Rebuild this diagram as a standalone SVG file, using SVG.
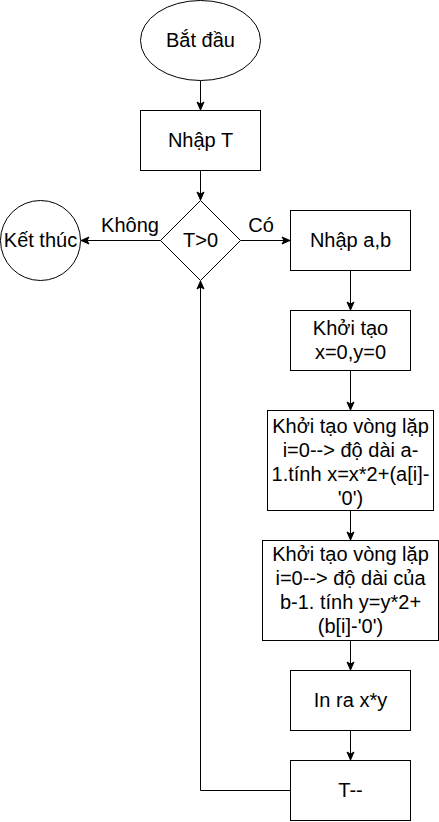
<svg xmlns="http://www.w3.org/2000/svg" width="439" height="822" viewBox="0 0 439 822">
  <defs>
    <marker id="arr" markerUnits="userSpaceOnUse" markerWidth="10" markerHeight="10" viewBox="0 0 10 10" refX="9" refY="5" orient="auto">
      <path d="M1,1.5 L9,5 L1,8.5 L3,5 Z" fill="#000" stroke="#000" stroke-width="1"/>
    </marker>
  </defs>
  <style>
    .shape { fill: #fff; stroke: #000; stroke-width: 1; }
    .edge { fill: none; stroke: #000; stroke-width: 1; marker-end: url(#arr); }
    text { font-family: "Liberation Sans", Arial, sans-serif; font-size: 20px; fill: #000; text-anchor: middle; }
  </style>
  <rect width="439" height="822" fill="#fff"/>
  <g id="connectors">
    <path class="edge" d="M200.5,80.5 L200.5,110"/>
    <path class="edge" d="M200.5,170.5 L200.5,200"/>
    <path class="edge" d="M160.5,240.5 L81,240.5"/>
    <path class="edge" d="M240.5,240.5 L290,240.5"/>
    <path class="edge" d="M350.5,270.5 L350.5,310"/>
    <path class="edge" d="M350.5,370.5 L350.5,410"/>
    <path class="edge" d="M350.5,510.5 L350.5,540"/>
    <path class="edge" d="M350.5,640.5 L350.5,670"/>
    <path class="edge" d="M350.5,730.5 L350.5,760"/>
    <path class="edge" d="M290.5,790.5 L200.5,790.5 L200.5,281"/>
    <text x="130" y="232">Không</text>
    <text x="261" y="232">Có</text>
  </g>
  <g id="start">
    <ellipse class="shape" cx="200.5" cy="40.5" rx="60" ry="40"/>
    <text x="200.5" y="47">Bắt đầu</text>
  </g>
  <g id="input-t">
    <rect class="shape" x="140.5" y="110.5" width="120" height="60"/>
    <text x="200.5" y="147">Nhập T</text>
  </g>
  <g id="cond">
    <path class="shape" d="M200.5,200.5 L240.5,240.5 L200.5,280.5 L160.5,240.5 Z"/>
    <text x="200.5" y="247">T&gt;0</text>
  </g>
  <g id="end">
    <circle class="shape" cx="40.5" cy="240.5" r="40"/>
    <text x="40.5" y="247">Kết thúc</text>
  </g>
  <g id="input-ab">
    <rect class="shape" x="290.5" y="210.5" width="120" height="60"/>
    <text x="350.5" y="247">Nhập a,b</text>
  </g>
  <g id="init-xy">
    <rect class="shape" x="290.5" y="310.5" width="120" height="60"/>
    <text x="350.5" y="335">Khởi tạo</text>
    <text x="350.5" y="359">x=0,y=0</text>
  </g>
  <g id="loop-a">
    <rect class="shape" x="267.5" y="410.5" width="166" height="100"/>
    <text x="350.5" y="433">Khởi tạo vòng lặp</text>
    <text x="350.5" y="457">i=0--&gt; độ dài a-</text>
    <text x="350.5" y="481">1.tính x=x*2+(a[i]-</text>
    <text x="350.5" y="505">'0')</text>
  </g>
  <g id="loop-b">
    <rect class="shape" x="262.5" y="540.5" width="176" height="100"/>
    <text x="350.5" y="561">Khởi tạo vòng lặp</text>
    <text x="350.5" y="585">i=0--&gt; độ dài của</text>
    <text x="350.5" y="609">b-1. tính y=y*2+</text>
    <text x="350.5" y="633">(b[i]-'0')</text>
  </g>
  <g id="print">
    <rect class="shape" x="290.5" y="670.5" width="120" height="60"/>
    <text x="350.5" y="707">In ra x*y</text>
  </g>
  <g id="decr">
    <rect class="shape" x="290.5" y="760.5" width="120" height="60"/>
    <text x="350.5" y="797">T--</text>
  </g>
</svg>
